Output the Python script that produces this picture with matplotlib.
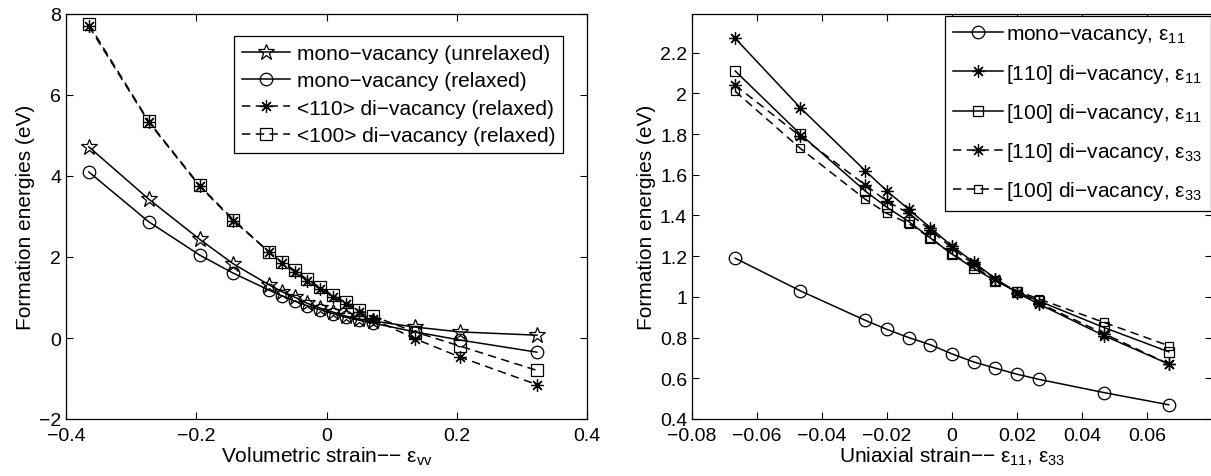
import matplotlib
matplotlib.use("Agg")
import matplotlib.pyplot as plt
from matplotlib.ticker import FuncFormatter

plt.rcParams['font.family'] = ['Liberation Sans', 'DejaVu Sans']
plt.rcParams['axes.unicode_minus'] = True

# ---------------- Left panel data ----------------
vol_strain = [-0.365, -0.273, -0.195, -0.143, -0.088, -0.068, -0.049, -0.030,
              -0.010, 0.010, 0.030, 0.050, 0.071, 0.136, 0.205, 0.323]
mono_unrelaxed = [4.72, 3.43, 2.44, 1.83, 1.31, 1.14, 1.01, 0.86,
                  0.74, 0.64, 0.54, 0.47, 0.42, 0.27, 0.15, 0.07]
mono_relaxed = [4.10, 2.87, 2.05, 1.60, 1.18, 1.04, 0.91, 0.80,
                0.70, 0.60, 0.51, 0.44, 0.37, 0.15, -0.05, -0.35]
di110_relaxed = [7.70, 5.33, 3.75, 2.90, 2.12, 1.85, 1.64, 1.41,
                 1.21, 1.01, 0.84, 0.64, 0.47, -0.02, -0.47, -1.15]
di100_relaxed = [7.75, 5.35, 3.77, 2.92, 2.12, 1.87, 1.67, 1.45,
                 1.25, 1.05, 0.88, 0.70, 0.54, 0.15, -0.20, -0.80]
left_labels = ['mono\u2212vacancy (unrelaxed)', 'mono\u2212vacancy (relaxed)',
               '<110> di\u2212vacancy (relaxed)', '<100> di\u2212vacancy (relaxed)']

# ---------------- Right panel data ----------------
uni_strain = [-0.0667, -0.0467, -0.0267, -0.02, -0.0133, -0.0067, 0.0,
              0.0067, 0.0133, 0.02, 0.0267, 0.0467, 0.0667]
mono_e11 = [1.19, 1.03, 0.885, 0.84, 0.80, 0.765, 0.72,
            0.68, 0.65, 0.62, 0.595, 0.53, 0.47]
di110_e11 = [2.27, 1.93, 1.62, 1.52, 1.43, 1.34, 1.25,
             1.17, 1.09, 1.02, 0.965, 0.81, 0.67]
di100_e11 = [2.11, 1.80, 1.52, 1.44, 1.37, 1.29, 1.21,
             1.14, 1.08, 1.025, 0.98, 0.85, 0.73]
di110_e33 = [2.04, 1.79, 1.55, 1.47, 1.41, 1.33, 1.24,
             1.16, 1.09, 1.02, 0.97, 0.82, 0.67]
di100_e33 = [2.01, 1.73, 1.48, 1.41, 1.36, 1.29, 1.21,
             1.15, 1.08, 1.03, 0.99, 0.875, 0.76]
right_labels = ['mono\u2212vacancy,$\\mathregular{\\;ε_{11}}$',
                '[110] di\u2212vacancy,$\\mathregular{\\;ε_{11}}$',
                '[100] di\u2212vacancy,$\\mathregular{\\;ε_{11}}$',
                '[110] di\u2212vacancy,$\\mathregular{\\;ε_{33}}$',
                '[100] di\u2212vacancy,$\\mathregular{\\;ε_{33}}$']

left_xticks = [-0.4, -0.2, 0, 0.2, 0.4]
left_yticks = [-2, 0, 2, 4, 6, 8]
right_xticks = [-0.08, -0.06, -0.04, -0.02, 0, 0.02, 0.04, 0.06]
right_yticks = [0.4, 0.6, 0.8, 1, 1.2, 1.4, 1.6, 1.8, 2, 2.2]

W, H = 1211, 477
fig = plt.figure(figsize=(W / 100, H / 100), dpi=100)

def px_axes(x0, x1, y0, y1):
    return fig.add_axes([x0 / W, 1 - y1 / H, (x1 - x0) / W, (y1 - y0) / H])

axL = px_axes(66, 587, 15, 420)
axR = px_axes(692, 1212, 15, 420)

FS = 14
LEGFS = 15
LFS = 15
LW = 1.1
DASH = (5.5, 3.5)
AST = (8, 2, 0)
fmt = FuncFormatter(lambda v, p: ('%g' % v).replace('-', '\u2212'))

# Left panel
axL.plot(vol_strain, mono_unrelaxed, '-', color='k', lw=LW, marker='*', ms=12,
         mfc='none', mec='k', mew=0.9, label=left_labels[0])
axL.plot(vol_strain, mono_relaxed, '-', color='k', lw=LW, marker='o', ms=9,
         mfc='none', mec='k', mew=0.9, label=left_labels[1])
l3, = axL.plot(vol_strain, di110_relaxed, '--', color='k', lw=LW, marker=AST, ms=9,
               mec='k', mew=0.9, label=left_labels[2])
l4, = axL.plot(vol_strain, di100_relaxed, '--', color='k', lw=LW, marker='s', ms=8,
               mfc='none', mec='k', mew=0.9, label=left_labels[3])
l3.set_dashes(DASH)
l4.set_dashes(DASH)
axL.set_xlim(-0.4, 0.4)
axL.set_ylim(-2, 8)
axL.set_xticks(left_xticks)
axL.set_yticks(left_yticks)
axL.xaxis.set_major_formatter(fmt)
axL.yaxis.set_major_formatter(fmt)
axL.set_xlabel('Volumetric strain\u2212\u2212 $\\mathregular{ε_{vv}}$', fontsize=LFS, labelpad=0)
axL.set_ylabel('Formation energies (eV)', fontsize=LFS, labelpad=3)
legL = axL.legend(loc='upper right', bbox_to_anchor=((563 - 66) / 521, (420 - 37) / 405),
                  borderaxespad=0, fontsize=LEGFS, handlelength=2.3, handletextpad=0.3,
                  labelspacing=0.4, borderpad=0.38, fancybox=False, framealpha=1,
                  edgecolor='k')
legL.get_frame().set_linewidth(0.9)

# Right panel
axR.plot(uni_strain, mono_e11, '-', color='k', lw=LW, marker='o', ms=9,
         mfc='none', mec='k', mew=0.9, label=right_labels[0])
axR.plot(uni_strain, di110_e11, '-', color='k', lw=LW, marker=AST, ms=9,
         mec='k', mew=0.9, label=right_labels[1])
axR.plot(uni_strain, di100_e11, '-', color='k', lw=LW, marker='s', ms=7.5,
         mfc='none', mec='k', mew=0.9, label=right_labels[2])
r4, = axR.plot(uni_strain, di110_e33, '--', color='k', lw=LW, marker=AST, ms=9,
               mec='k', mew=0.9, label=right_labels[3])
r5, = axR.plot(uni_strain, di100_e33, '--', color='k', lw=LW, marker='s', ms=5.5,
               mfc='none', mec='k', mew=0.9, label=right_labels[4])
r4.set_dashes(DASH)
r5.set_dashes(DASH)
axR.set_xlim(-0.08, 0.08)
axR.set_ylim(0.4, 2.39)
axR.set_xticks(right_xticks)
axR.set_yticks(right_yticks)
axR.xaxis.set_major_formatter(fmt)
axR.yaxis.set_major_formatter(fmt)
axR.set_xlabel('Uniaxial strain\u2212\u2212 $\\mathregular{ε_{11}}$, $\\mathregular{ε_{33}}$',
               fontsize=LFS, labelpad=0)
axR.set_ylabel('Formation energies (eV)', fontsize=LFS, labelpad=3)
legR = axR.legend(loc='upper left', bbox_to_anchor=((945 - 692) / 520, (420 - 17) / 405),
                  borderaxespad=0, fontsize=LEGFS, handlelength=2.4, handletextpad=0.15,
                  labelspacing=0.78, borderpad=0.4, fancybox=False, framealpha=1,
                  edgecolor='k')
legR.get_frame().set_linewidth(0.9)

for ax in (axL, axR):
    ax.tick_params(direction='in', top=True, right=True, length=5, width=0.8,
                   labelsize=FS)
    ax.tick_params(axis='x', pad=6)
    ax.tick_params(axis='y', pad=3.5)
    for s in ax.spines.values():
        s.set_linewidth(0.9)

fig.savefig('out.png', dpi=100)
